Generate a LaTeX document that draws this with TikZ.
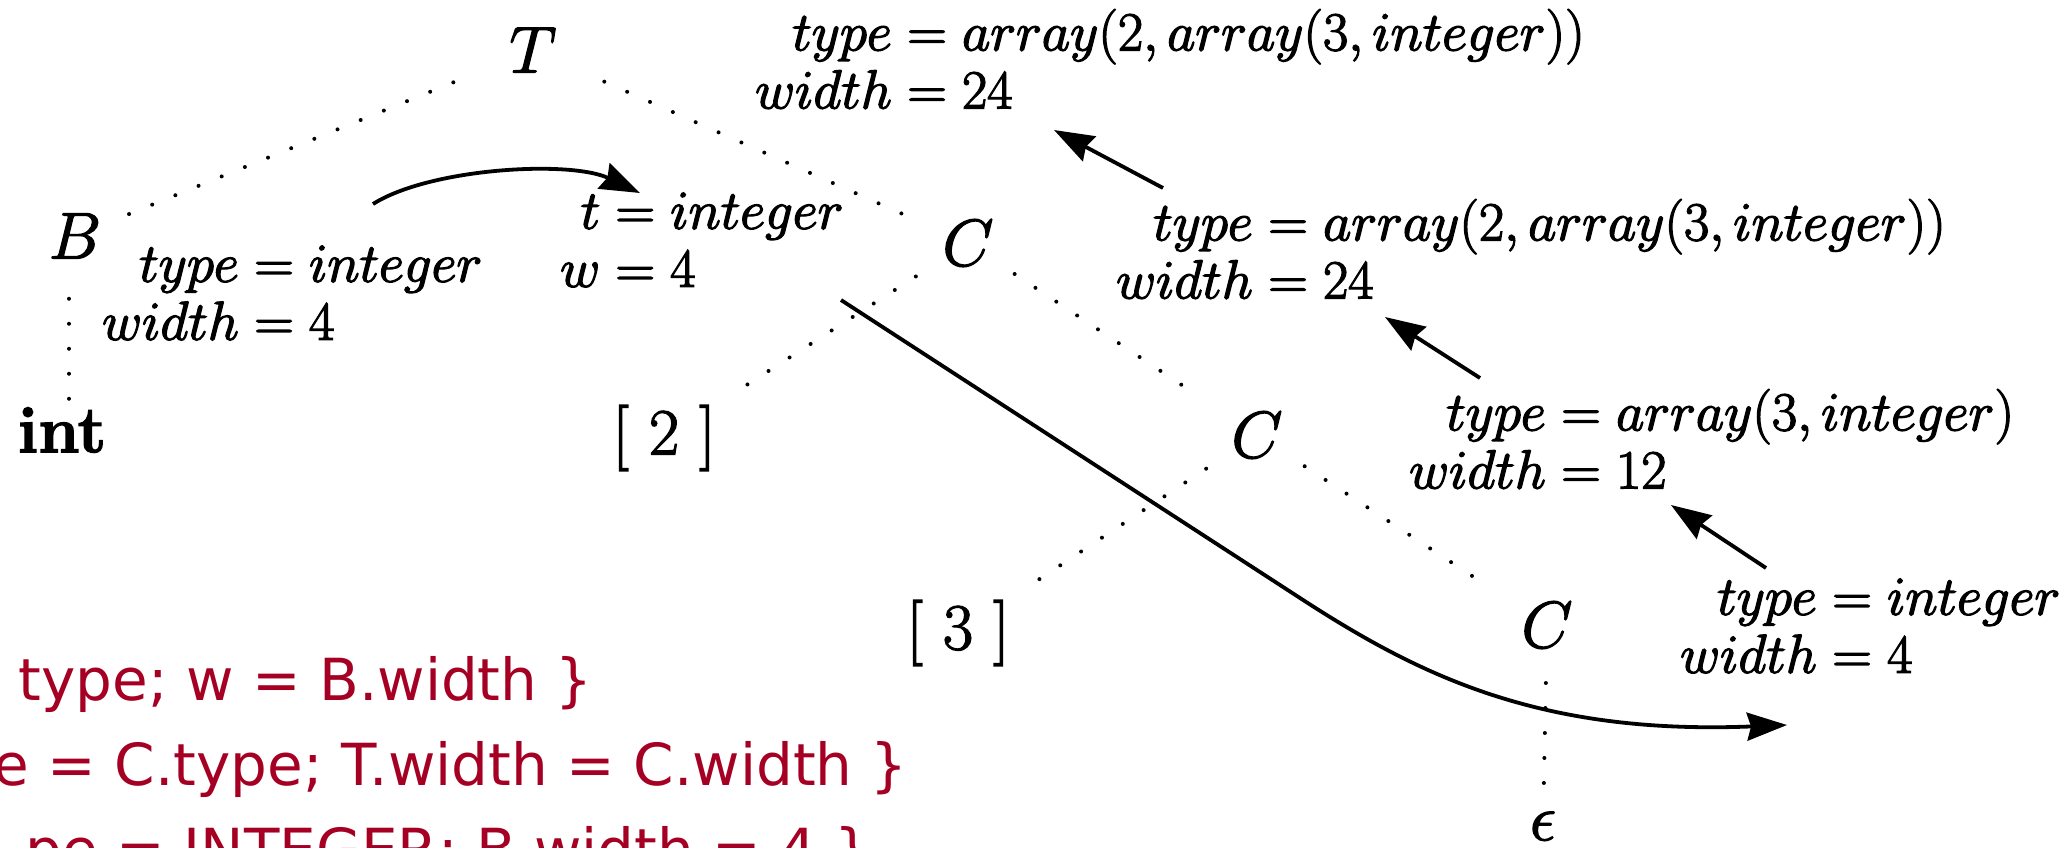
\RequirePackage{fix-cm}
\documentclass[tikz,border=0pt]{standalone}
\usepackage{amsmath}
\usepackage[no-math]{fontspec}
\newfontfamily\redfont{DejaVu Sans}
\usetikzlibrary{arrows.meta}
\definecolor{codered}{RGB}{165,0,35}
\newcommand\inked[1]{\special{pdf:literal direct 2 Tr 1.3 w}#1\special{pdf:literal direct 0 Tr}}
\begin{document}
\begin{tikzpicture}[x=1pt,y=-1pt,
  treenode/.style={inner sep=0pt, font=\fontsize{66}{70}\selectfont},
  attr/.style={inner sep=0pt, anchor=north west, font=\fontsize{55}{58}\selectfont},
  treeedge/.style={line width=4pt, line cap=round, dash pattern=on 0pt off 25pt},
  flow/.style={line width=3.8pt, -{Stealth[length=40pt,width=28pt,inset=4pt]}},
  code/.style={inner sep=0pt, anchor=base east, text=codered, font=\redfont\fontsize{58}{60}\selectfont}
]
\useasboundingbox (0,0) rectangle (2068,847);
\clip (0,0) rectangle (2068,847);
\fill[white] (0,0) rectangle (2068,847);

% tree nodes
\node[treenode] (T)  at (533,50)   {\inked{$T$}};
\node[treenode] (B)  at (75,236)   {\inked{$B$}};
\node[treenode] (C1) at (968,243)  {\inked{$C$}};
\node[treenode] (int) at (62,430)  {\inked{\textbf{int}}};
\node[treenode] (two) at (664,438) {\inked{[ 2 ]}};
\node[treenode] (C2) at (1257,435) {\inked{$C$}};
\node[treenode] (three) at (958,633) {\inked{[ 3 ]}};
\node[treenode] (C3) at (1547,625) {\inked{$C$}};
\node[treenode] (eps) at (1543,826) {\inked{$\epsilon$}};

% attribute labels
\node[attr] (Tlab) at (755,9) {\inked{$\begin{array}{@{}r@{}l@{}} type &{}= array(2, array(3, integer))\\ width &{}= 24\end{array}$}};
\node[attr] (Blab) at (102,241) {\inked{$\begin{array}{@{}r@{}l@{}} type &{}= integer\\ width &{}= 4\end{array}$}};
\node[attr] (tlab) at (560,188) {\inked{$\begin{array}{@{}r@{}l@{}} t &{}= integer\\ w &{}= 4\end{array}$}};
\node[attr] (C1lab) at (1116,199) {\inked{$\begin{array}{@{}r@{}l@{}} type &{}= array(2, array(3, integer))\\ width &{}= 24\end{array}$}};
\node[attr] (C2lab) at (1409,389) {\inked{$\begin{array}{@{}r@{}l@{}} type &{}= array(3, integer)\\ width &{}= 12\end{array}$}};
\node[attr] (C3lab) at (1680,574) {\inked{$\begin{array}{@{}r@{}l@{}} type &{}= integer\\ width &{}= 4\end{array}$}};

% dotted tree edges
\draw[treeedge, shorten <=86pt, shorten >=58pt] (T.center) -- (B.center);
\draw[treeedge, shorten <=78pt, shorten >=64pt] (T.center) -- (C1.center);
\draw[treeedge, shorten <=40pt, shorten >=5pt] ([xshift=-6pt]B.south) -- ([xshift=-6pt]B.south |- int.north);
\draw[treeedge, shorten <=62pt, shorten >=79pt] (C1.center) -- (two.center);
\draw[treeedge, shorten <=56pt, shorten >=75pt] (C1.center) -- (C2.center);
\draw[treeedge, shorten <=61pt, shorten >=78pt] (C2.center) -- (three.center);
\draw[treeedge, shorten <=57pt, shorten >=70pt] (C2.center) -- (C3.center);
\draw[treeedge, shorten <=58pt, shorten >=36pt] (C3.center) -- (eps.center);

% arrow end points
\coordinate (bs) at (373,204);
\coordinate (be) at (640,193);
\coordinate (a1s) at (1163,188);
\coordinate (a1e) at (1054,130);
\coordinate (a2s) at (1480,378);
\coordinate (a2e) at (1385,317);
\coordinate (a3s) at (1766,568);
\coordinate (a3e) at (1671,505);
\coordinate (ls) at (841,300);
\coordinate (lm) at (1300,598);
\coordinate (le) at (1787,725);

\draw[flow] (bs) .. controls (430,168) and (570,160) .. (be);
\draw[flow] (a1s) -- (a1e);
\draw[flow] (a2s) -- (a2e);
\draw[flow] (a3s) -- (a3e);
\draw[flow] (ls) -- (lm) .. controls (1420,676) and (1540,735) .. (le);

% red code text
\node[code] (r1) at (593,700) {type; w = B.width \}};
\node[code] (r2) at (908,785) {e = C.type; T.width = C.width \}};
\node[code] (r3) at (872,870) {pe = INTEGER; B.width = 4 \}};
\end{tikzpicture}
\end{document}
